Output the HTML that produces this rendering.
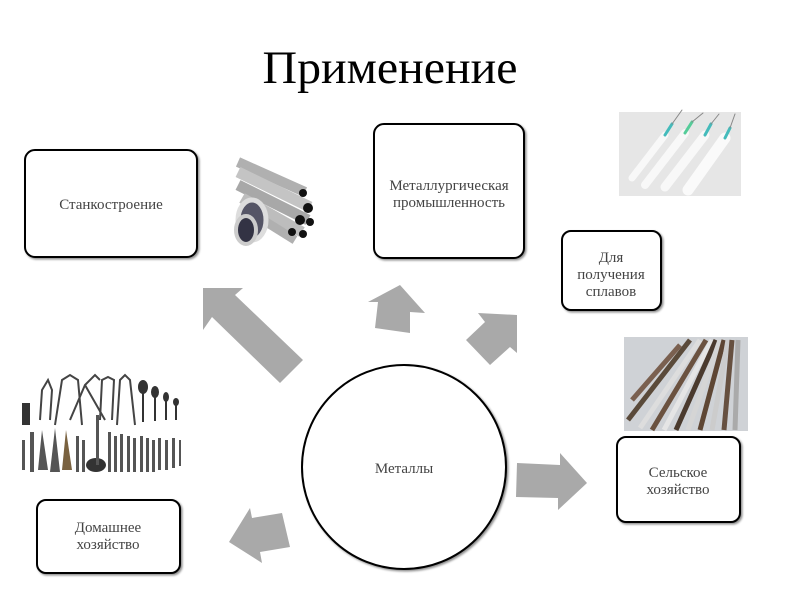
<!DOCTYPE html>
<html><head><meta charset="utf-8"><style>
html,body{margin:0;padding:0;background:#fff;}
svg{display:block;}
text{font-family:"Liberation Serif","DejaVu Serif",serif;fill:#444;}
</style></head><body>
<svg width="800" height="600" viewBox="0 0 800 600" xmlns="http://www.w3.org/2000/svg">
<defs>
<filter id="sh" x="-10%" y="-10%" width="130%" height="130%"><feDropShadow dx="1.5" dy="1.5" stdDeviation="1" flood-color="#000" flood-opacity="0.45"/></filter>
</defs>
<rect width="800" height="600" fill="#fff"/>
<text x="390" y="83" font-size="47" text-anchor="middle" style="fill:#000" textLength="255" lengthAdjust="spacingAndGlyphs">Применение</text>

<g fill="#fff" stroke="#000" stroke-width="2" filter="url(#sh)">
<rect x="25" y="150" width="172" height="107" rx="10"/>
<rect x="374" y="124" width="150" height="134" rx="10"/>
<rect x="562" y="231" width="99" height="79" rx="9"/>
<rect x="617" y="437" width="123" height="85" rx="9"/>
<rect x="37" y="500" width="143" height="73" rx="9"/>
</g>
<g font-size="15" text-anchor="middle">
<text x="111" y="209">Станкостроение</text>
<text x="449" y="190">Металлургическая</text>
<text x="449" y="207">промышленность</text>
<text x="611" y="262">Для</text>
<text x="611" y="279">получения</text>
<text x="611" y="296">сплавов</text>
<text x="678" y="477">Сельское</text>
<text x="678" y="494">хозяйство</text>
<text x="108" y="532">Домашнее</text>
<text x="108" y="549">хозяйство</text>
</g>

<circle cx="404" cy="467" r="102" fill="#fff" stroke="#000" stroke-width="2" filter="url(#sh)"/>
<text x="404" y="473" font-size="15" text-anchor="middle">Металлы</text>

<g fill="#a9a9a9">
<polygon points="212,288 243,288 235,295 303,360 280,383 212,317 203,330 203,288"/>
<polygon points="400,285 425,313 410,312 410,333 375,328 378,302 368,302"/>
<polygon points="517,315 517,353 510,347 490,365 466,340 485,322 478,313"/>
<polygon points="517,463 560,465 560,453 587,483 558,510 558,498 516,497"/>
<polygon points="282,513 290,547 260,552 262,563 229,542 250,508 252,518"/>
</g>

<g>
<g stroke-linecap="butt">
<line x1="238" y1="162" x2="305" y2="192" stroke="#b0b0b0" stroke-width="10"/>
<line x1="238" y1="172" x2="310" y2="207" stroke="#c4c4c4" stroke-width="11"/>
<line x1="238" y1="185" x2="308" y2="220" stroke="#a8a8a8" stroke-width="11"/>
<line x1="242" y1="198" x2="302" y2="232" stroke="#bdbdbd" stroke-width="11"/>
<line x1="250" y1="212" x2="295" y2="240" stroke="#b0b0b0" stroke-width="9"/>
</g>
<circle cx="303" cy="193" r="4" fill="#111"/><circle cx="308" cy="208" r="5" fill="#111"/>
<circle cx="300" cy="220" r="5" fill="#111"/><circle cx="310" cy="222" r="4" fill="#111"/>
<circle cx="292" cy="232" r="4" fill="#111"/><circle cx="303" cy="234" r="4" fill="#111"/>
<ellipse cx="252" cy="220" rx="14" ry="20" fill="#556" stroke="#ddd" stroke-width="5"/>
<ellipse cx="246" cy="230" rx="10" ry="14" fill="#334" stroke="#ccc" stroke-width="4"/>
</g>

<rect x="619" y="112" width="122" height="84" fill="#e6e6e6"/>
<g stroke-linecap="round">
<line x1="632" y1="178" x2="665" y2="135" stroke="#f8f8f8" stroke-width="7"/>
<line x1="645" y1="185" x2="685" y2="133" stroke="#f8f8f8" stroke-width="8"/>
<line x1="665" y1="187" x2="705" y2="135" stroke="#f8f8f8" stroke-width="9"/>
<line x1="688" y1="190" x2="725" y2="138" stroke="#fafafa" stroke-width="11"/>
<line x1="665" y1="135" x2="672" y2="124" stroke="#4bb" stroke-width="3"/>
<line x1="685" y1="133" x2="692" y2="122" stroke="#5c9" stroke-width="3"/>
<line x1="705" y1="135" x2="711" y2="124" stroke="#4bb" stroke-width="3"/>
<line x1="725" y1="138" x2="730" y2="128" stroke="#4bb" stroke-width="3"/>
<line x1="672" y1="124" x2="682" y2="110" stroke="#888" stroke-width="1"/>
<line x1="692" y1="122" x2="703" y2="113" stroke="#888" stroke-width="1"/>
<line x1="711" y1="124" x2="719" y2="114" stroke="#888" stroke-width="1"/>
<line x1="730" y1="128" x2="735" y2="114" stroke="#888" stroke-width="1"/>
</g>

<rect x="624" y="337" width="124" height="94" fill="#cfd2d6"/>
<g stroke-width="5">
<line x1="628" y1="420" x2="690" y2="340" stroke="#5a4a3a"/>
<line x1="640" y1="428" x2="700" y2="340" stroke="#ddd"/>
<line x1="652" y1="430" x2="706" y2="340" stroke="#6b5240"/>
<line x1="664" y1="430" x2="712" y2="340" stroke="#e5e5e5"/>
<line x1="676" y1="430" x2="716" y2="340" stroke="#4a3a2e"/>
<line x1="688" y1="430" x2="720" y2="340" stroke="#d5d5d5"/>
<line x1="700" y1="430" x2="724" y2="340" stroke="#5e4634"/>
<line x1="712" y1="430" x2="728" y2="340" stroke="#ccc"/>
<line x1="724" y1="430" x2="732" y2="340" stroke="#665040"/>
<line x1="735" y1="430" x2="738" y2="340" stroke="#aaa"/>
<line x1="632" y1="400" x2="680" y2="345" stroke="#7a6050"/>
</g>

<g stroke="#444" fill="none" stroke-width="2">
<path d="M40 420 L42 390 L48 380 L52 390 L50 420"/>
<path d="M55 425 L62 380 L70 375 L78 380 L82 425"/>
<path d="M70 420 L85 385 L95 375 L100 380 M85 385 L105 420"/>
<path d="M100 420 L102 380 L108 377 L114 380 L112 420"/>
<path d="M117 425 L120 380 L125 375 L130 380 L135 425"/>
</g>
<g fill="#333">
<rect x="22" y="403" width="8" height="22"/>
<ellipse cx="143" cy="387" rx="5" ry="7"/><rect x="142" y="392" width="2" height="30"/>
<ellipse cx="155" cy="392" rx="4" ry="6"/><rect x="154" y="396" width="2" height="25"/>
<ellipse cx="166" cy="397" rx="3" ry="5"/><rect x="165" y="400" width="2" height="20"/>
<ellipse cx="176" cy="402" rx="3" ry="4"/><rect x="175" y="404" width="2" height="16"/>
<ellipse cx="96" cy="465" rx="10" ry="7"/>
</g>
<g fill="#555">
<rect x="22" y="440" width="3" height="30"/><rect x="30" y="432" width="4" height="40"/>
<polygon points="38,470 42,430 48,470"/><polygon points="50,472 55,428 60,472"/>
<polygon points="62,470 66,430 72,470" fill="#7a6240"/>
<rect x="76" y="436" width="3" height="36"/><rect x="82" y="440" width="3" height="32"/>
<rect x="96" y="415" width="3" height="50"/>
<rect x="108" y="432" width="3" height="40"/><rect x="114" y="436" width="3" height="36"/>
<rect x="120" y="434" width="3" height="38"/><rect x="127" y="436" width="3" height="36"/>
<rect x="133" y="438" width="3" height="34"/><rect x="140" y="436" width="3" height="36"/>
<rect x="146" y="438" width="3" height="34"/><rect x="152" y="440" width="3" height="32"/>
<rect x="158" y="438" width="3" height="32"/><rect x="165" y="440" width="3" height="30"/>
<rect x="172" y="438" width="3" height="30"/><rect x="179" y="440" width="2" height="26"/>
</g>
</svg>
</body></html>
